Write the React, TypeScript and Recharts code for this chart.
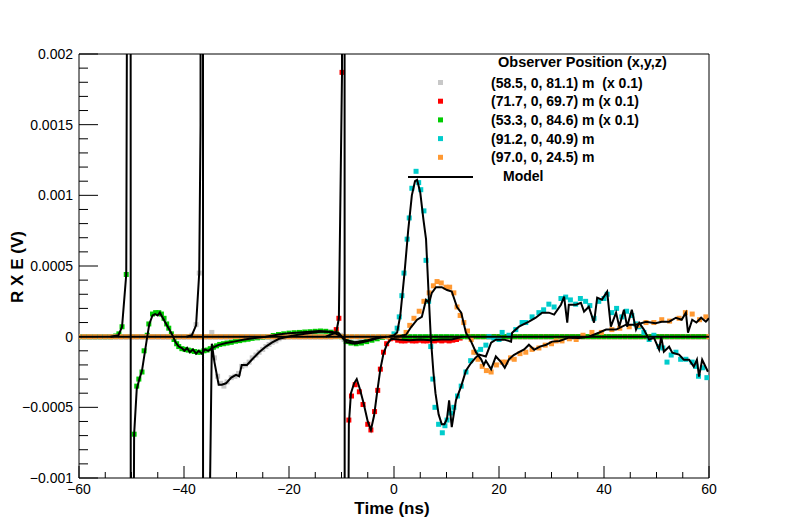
import React from "react";
import {
  ComposedChart,
  Scatter,
  Line,
  XAxis,
  YAxis,
  ReferenceLine,
} from "recharts";

// all values are in units of 1e-4 V, times in ns
const UNIT = 1e-4;
type Pt = [number, number];

// sampling grid used where a trace sits flat on zero
const zeroTimes = Array.from({ length: 121 }, (_, i) => i - 60);

const xTicks = [-60, -55, -50, -45, -40, -35, -30, -25, -20, -15, -10, -5, 0, 5, 10, 15, 20, 25, 30, 35, 40, 45, 50, 55, 60];
const xLabels: Record<number, string> = { [-60]: "\u221260", [-40]: "\u221240", [-20]: "\u221220", 0: "0", 20: "20", 40: "40", 60: "60" };
const yTicks = [-10, -9, -8, -7, -6, -5, -4, -3, -2, -1, 0, 1, 2, 3, 4, 5, 6, 7, 8, 9, 10, 11, 12, 13, 14, 15, 16, 17, 18, 19, 20];
const yLabels: Record<number, string> = { [-10]: "\u22120.001", [-5]: "\u22120.0005", 0: "0", 5: "0.0005", 10: "0.001", 15: "0.0015", 20: "0.002" };

const legendTitle = "Observer Position (x,y,z)";
const legendNames = [
  "(58.5, 0, 81.1) m  (x 0.1)",
  "(71.7, 0, 69.7) m (x 0.1)",
  "(53.3, 0, 84.6) m (x 0.1)",
  "(91.2, 0, 40.9) m",
  "(97.0, 0, 24.5) m",
];
const colors = ["#c8c8c8", "#ff0000", "#00cc00", "#00cccc", "#ff9933"];

// measured points
const grayPts: Pt[] = [
  [-38.5, 0.1], [-37.7, 0.85], [-37.1, 4.5], [-34.7, 0.3], [-34.2, -1.5], [-33.6, -2.8], [-33.0, -3.3],
  [-32.4, -3.5], [-31.8, -3.2], [-31.0, -2.9], [-30.3, -2.8], [-29.6, -2.6], [-29.0, -2.1], [-28.3, -2.0],
  [-27.6, -1.8], [-27.0, -1.5], [-26.3, -1.3], [-25.7, -1.1], [-25.0, -0.9], [-24.4, -0.7], [-23.8, -0.55],
  [-23.2, -0.4], [-22.5, -0.3], [-21.9, -0.15], [-21.0, -0.05], [-20.0, 0.05], [-19.0, 0.1], [-18.0, 0.15],
  [-17.0, 0.2], [-16.0, 0.25], [-15.0, 0.3], [-14.0, 0.35], [-13.0, 0.35], [-12.0, 0.35], [-11.0, 0.3],
  [-10.2, 0.1], [-9.5, -0.2], [-8.5, -0.35], [-7.5, -0.4], [-6.5, -0.35], [-5.5, -0.3], [-4.5, -0.2],
  [-3.5, -0.1], [-2.5, 0],
];
const redPts: Pt[] = [
  [-12, 0], [-11, 0.5], [-10.5, 1.3], [-9.9, 18.7], [-8.6, -5.9], [-8.1, -4.2], [-7.4, -3.4], [-6.6, -3.9],
  [-5.9, -4.8], [-5.0, -6.2], [-4.4, -6.6], [-3.7, -5.3], [-3.1, -3.8], [-2.6, -2.3], [-2.0, -1.1],
  [-1.4, -0.5], [-0.7, -0.15], [0, -0.1], [0.7, -0.25], [1.4, -0.3], [2.1, -0.3], [2.8, -0.25], [3.5, -0.3],
  [4.2, -0.3], [4.9, -0.25], [5.6, -0.3], [6.3, -0.3], [7.0, -0.25], [7.7, -0.3], [8.4, -0.25], [9.1, -0.3],
  [9.8, -0.25], [10.5, -0.3], [11.2, -0.25], [11.9, -0.2], [12.6, -0.1],
];
const greenPts: Pt[] = [
  [-53, 0.05], [-52.4, 0.2], [-51.8, 0.7], [-51.0, 4.4], [-49.5, -6.9], [-49.0, -3.5], [-48.6, -3.0],
  [-48.0, -2.5], [-47.6, -1.0], [-47.0, 0.1], [-46.7, 0.9], [-46.0, 1.6], [-45.4, 1.7], [-44.8, 1.7],
  [-44.3, 1.6], [-43.8, 1.3], [-43.3, 0.9], [-42.9, 0.6], [-42.4, 0.2], [-41.9, -0.2], [-41.4, -0.5],
  [-41.0, -0.7], [-40.4, -0.85], [-39.8, -0.9], [-39.2, -0.95], [-38.6, -1.0], [-38.0, -1.05], [-37.4, -1.1],
  [-36.8, -1.1], [-36.2, -1.0], [-35.6, -0.95], [-35.0, -0.85], [-34.4, -0.75], [-33.8, -0.65], [-33.2, -0.55],
  [-32.5, -0.5], [-31.8, -0.45], [-31.0, -0.4], [-30.2, -0.32], [-29.4, -0.28], [-28.6, -0.22], [-27.8, -0.18],
  [-27.0, -0.12], [-26.0, -0.08], [-25.0, -0.03], [-24.0, 0], [-23.0, 0.08], [-22.0, 0.15], [-21.0, 0.2],
  [-20.0, 0.25], [-19.0, 0.28], [-18.0, 0.3], [-17.0, 0.33], [-16.0, 0.35], [-15.0, 0.38], [-14.0, 0.4],
  [-13.0, 0.38], [-12.0, 0.3], [-11.0, 0.2], [-10.0, 0.0], [-9.1, -0.35], [-8.2, -0.45], [-7.2, -0.5],
  [-6.2, -0.45], [-5.2, -0.35], [-4.2, -0.25], [-3.2, -0.15], [-2.2, -0.05],
];
const cyanPts: Pt[] = [
  [-1, 0], [0, 0.2], [0.6, 0.6], [1.0, 1.4], [1.5, 2.9], [1.9, 4.5], [2.5, 6.9], [2.9, 8.4], [3.4, 10.5],
  [4.2, 11.7], [4.7, 10.9], [5.1, 10.4], [5.7, 8.9], [6.1, 5.4], [6.6, 2.5], [7.0, -0.7], [7.4, -3.0],
  [7.8, -5.0], [8.5, -6.2], [9.2, -6.8], [9.7, -6.3], [10.1, -5.9], [10.8, -5.4], [11.4, -5.0], [12.1, -4.2],
  [12.8, -3.5], [13.7, -2.5], [14.6, -1.7], [15.6, -1.1], [16.5, -0.9], [17.5, -0.6], [18.1, 0], [19.0, -0.1],
  [20.0, -0.2], [20.6, 0.3], [21.9, 0.1], [23.2, 0.5], [24.4, 1.0], [25.1, 1.0], [26.3, 1.4], [27.6, 1.7],
  [28.5, 1.9], [29.5, 2.3], [30.5, 2.1], [31.8, 2.7], [32.7, 2.8], [33.6, 2.6], [34.6, 2.3], [35.5, 2.7],
  [36.5, 2.5], [37.3, 2.2], [38.1, 1.3], [39.0, 2.5], [40.0, 2.7], [40.6, 3.0], [41.5, 1.7], [42.4, 2.0],
  [43.4, 1.4], [44.3, 1.8], [45.3, 1.5], [46.0, 0.9], [46.7, 0.7], [47.6, 0.3], [48.6, -0.2], [49.5, 0.1],
  [50.5, -0.7], [51.2, -0.8], [52.0, -1.8], [52.8, -1.3], [53.7, -1.1], [54.6, -1.6], [55.6, -1.6],
  [56.8, -1.8], [57.5, -2.1], [58.0, -2.8], [58.8, -2.2], [59.6, -2.9],
];
const orangePts: Pt[] = [
  [1, 0], [2.3, 0.3], [3, 0.8], [3.8, 1.3], [4.8, 1.8], [5.7, 2.5], [6.7, 3.1], [7.5, 3.6], [8.2, 3.9],
  [9.0, 3.8], [9.9, 3.5], [10.6, 3.5], [11.4, 3.1], [12, 2.1], [12.6, 1.5], [13.3, 1.0], [14.0, 0.4],
  [14.7, -0.2], [15.2, -1.1], [16.0, -1.6], [16.8, -2.1], [17.6, -2.4], [18.5, -2.5], [19.5, -2.0],
  [20.6, -1.8], [21.3, -1.8], [22.2, -1.5], [22.9, -1.6], [24, -1.2], [25.1, -1.1], [26.3, -0.9],
  [27.6, -0.8], [28.8, -0.6], [30, -0.5], [30.9, -0.3], [32, -0.3], [33.4, -0.15], [34.7, -0.2], [36, 0.1],
  [37.7, 0.3], [39.5, 0.3], [41.5, 0.5], [43, 0.6], [44.8, 0.7], [46.5, 0.8], [48, 1.0], [49.5, 1.0],
  [51, 1.2], [52.5, 1.1], [54.3, 1.3], [55.5, 1.7], [56.8, 1.6], [58.2, 1.2], [59.4, 1.4],
];

// model curves (the spikes run far off the frame and get clipped)
const modelFlat: Pt[] = [[-60, 0], [60, 0]];
const grayModel: Pt[] = [
  [-39.5, 0], [-38.5, 0.1], [-37.7, 0.8], [-37.1, 4.5], [-36.85, 15], [-36.55, 400], [-36.2, -400],
  [-35.7, -30], [-34.7, -0.5], [-34.2, -1.8], [-33.4, -3.4], [-32.8, -3.4], [-32.0, -3.3], [-31.0, -2.9],
  [-30.1, -2.7], [-29.5, -2.8], [-29.0, -2.0], [-28.0, -2.0], [-27.0, -1.6], [-25.7, -1.1], [-24.4, -0.7],
  [-23.2, -0.4], [-21.9, -0.15], [-19.4, 0.07], [-17, 0.2], [-14, 0.35], [-12, 0.35], [-10.5, 0.25],
  [-9.5, -0.2], [-7.5, -0.4], [-5, -0.25], [-2.5, 0],
];
const redModel: Pt[] = [
  [-13, 0], [-11, 0.3], [-10.5, 1.3], [-9.9, 18.7], [-9.6, 400], [-9.2, -400], [-8.9, -30], [-8.6, -6.2],
  [-8.2, -4.0], [-7.6, -3.3], [-7.1, -3.0], [-6.5, -3.7], [-5.8, -4.7], [-5.0, -6.0], [-4.4, -6.6],
  [-3.8, -5.6], [-3.2, -3.9], [-2.6, -2.3], [-2.0, -1.2], [-1.3, -0.5], [-0.5, -0.15], [1, -0.2],
  [3, -0.25], [5, -0.2], [7, -0.25], [9, -0.2], [11, -0.2], [13, 0],
];
const greenModel: Pt[] = [
  [-54, 0], [-52.5, 0.1], [-51.8, 0.7], [-51.0, 4.4], [-50.85, 25], [-50.35, 400], [-49.95, -400],
  [-49.75, -30], [-49.5, -6.9], [-49.0, -3.7], [-48.5, -3.0], [-48.0, -2.4], [-47.5, -1.2], [-47.0, 0],
  [-46.6, 0.9], [-46.0, 1.5], [-45.5, 1.6], [-45.0, 1.5], [-44.6, 1.7], [-44.0, 1.3], [-43.4, 0.9],
  [-42.8, 0.5], [-42.2, 0.1], [-41.6, -0.4], [-41.0, -0.7], [-40.4, -0.8], [-39.9, -1.0], [-39.4, -0.8],
  [-38.9, -1.1], [-38.3, -0.9], [-37.7, -1.2], [-37.2, -1.0], [-36.6, -1.2], [-36.0, -0.9], [-35.4, -1.0],
  [-34.6, -0.8], [-33.5, -0.6], [-32.0, -0.45], [-30.5, -0.35], [-28.5, -0.2], [-26.5, -0.1], [-24.4, 0],
  [-22, 0.15], [-20, 0.25], [-18, 0.3], [-16, 0.35], [-14.3, 0.4], [-12.5, 0.35], [-11, 0.2], [-10, 0],
  [-9, -0.4], [-7.5, -0.5], [-6, -0.4], [-4.5, -0.25], [-3, -0.1], [-1.5, 0],
];
const cyanModel: Pt[] = [
  [-1, 0], [0, 0.1], [0.6, 0.3], [1.2, 1.5], [2.0, 4.5], [2.7, 7.5], [3.4, 10.0], [4.0, 11.0], [4.4, 11.1],
  [5.0, 10.2], [5.6, 8.3], [6.1, 6.9], [6.6, 3.0], [7.0, 0], [7.5, -2.5], [7.9, -4.0], [8.5, -5.5],
  [9.1, -6.2], [9.6, -6.2], [10.1, -5.8], [10.5, -4.5], [11.0, -6.4], [11.8, -4.5], [12.8, -3.5],
  [13.7, -2.4], [14.6, -1.9], [15.5, -1.5], [16.2, -1.27], [17.5, -1.4], [18.5, -0.42], [19.4, -0.21],
  [21.0, -0.21], [22.3, -0.35], [22.5, 0.28], [23.8, 0.71], [25.7, 1.06], [27.0, 1.34], [28.2, 1.7],
  [29.5, 1.7], [30.5, 1.56], [31.8, 2.26], [32.4, 2.83], [33.0, 0.99], [33.3, 2.26], [34.7, 2.26],
  [35.6, 2.4], [36.2, 1.77], [37.1, 2.12], [38.1, 0.99], [38.7, 2.76], [39.6, 2.62], [40.6, 3.18],
  [41.3, 0.71], [42.3, 1.7], [42.9, 0.71], [43.8, 1.91], [44.4, 0.71], [45.3, 1.91], [46.1, 0.5],
  [46.7, 0.99], [47.6, 0.5], [48.6, -0.21], [49.5, -0.07], [50.5, -0.92], [50.9, 0], [51.4, -1.06],
  [52.4, -0.71], [53.0, -1.13], [54.3, -1.27], [55.2, -1.63], [56.2, -1.63], [57.1, -2.12], [57.7, -1.63],
  [58.1, -2.83], [58.7, -1.63], [59.8, -2.48],
];
const orangeModel: Pt[] = [
  [0, 0], [1.2, 0.05], [2.3, 0.14], [3.3, 0.7], [4.4, 1.2], [5.3, 1.4], [6.1, 2.6], [6.7, 2.4], [7.2, 3.1],
  [8.0, 3.5], [9.1, 3.5], [10.1, 3.3], [11.0, 3.2], [12.0, 2.1], [12.8, 1.7], [13.7, 0.28], [14.7, -0.35],
  [15.6, -1.1], [16.6, -1.6], [17.1, -2.0], [17.5, -1.7], [18.5, -2.3], [19.4, -1.4], [20.4, -1.8],
  [21.1, -2.2], [21.9, -1.6], [22.8, -1.3], [23.8, -1.1], [24.8, -0.9], [25.7, -0.57], [26.7, -0.92],
  [27.8, -0.7], [29.0, -0.57], [30.1, -0.35], [31.5, -0.3], [33.3, -0.07], [35.2, -0.1], [37.1, 0],
  [39.0, 0.28], [40.4, 0.5], [42.3, 0.5], [44.2, 0.85], [46.1, 0.85], [48.0, 1.06], [49.8, 0.95],
  [51.0, 1.06], [52.4, 1.06], [53.7, 1.34], [54.8, 1.2], [55.6, 1.7], [56.0, 0.28], [56.8, 1.2],
  [57.6, 1.0], [58.5, 1.34], [59.4, 1.06], [60, 1.3],
];

const PLOT_LEFT = 79;
const PLOT_BOTTOM = 478;
const FONT = "'Liberation Sans', Arial, Helvetica, sans-serif";

const toRows = (pts: Pt[]) => pts.map(([t, v]) => ({ t, v: v * UNIT }));

function withZeros(pts: Pt[]) {
  const first = pts[0][0];
  const last = pts[pts.length - 1][0];
  const zeros: Pt[] = zeroTimes
    .filter((t) => t < first - 0.5 || t > last + 0.5)
    .map((t) => [t, 0] as Pt);
  return toRows([...zeros, ...pts].sort((a, b) => a[0] - b[0]));
}

const series = [grayPts, redPts, greenPts, cyanPts, orangePts].map(withZeros);
const models = [modelFlat, grayModel, redModel, greenModel, cyanModel, orangeModel].map(toRows);

function XTick(props: any) {
  const { x, payload } = props;
  const v = payload.value;
  const major = v % 20 === 0;
  return (
    <g>
      <line x1={x} x2={x} y1={PLOT_BOTTOM} y2={PLOT_BOTTOM - (major ? 12 : 6)} stroke="#000" />
      {major && (
        <text x={x} y={494} textAnchor="middle" fontSize={14} fontFamily={FONT} fill="#000">
          {xLabels[v]}
        </text>
      )}
    </g>
  );
}

function YTick(props: any) {
  const { y, payload } = props;
  const k = Math.round(payload.value / UNIT);
  const major = k % 5 === 0;
  return (
    <g>
      <line x1={PLOT_LEFT} x2={PLOT_LEFT + (major ? 19 : 9)} y1={y} y2={y} stroke="#000" />
      {major && (
        <text x={73} y={y + 5} textAnchor="end" fontSize={14} fontFamily={FONT} fill="#000">
          {yLabels[k]}
        </text>
      )}
    </g>
  );
}

const square = (color: string) => (p: any) =>
  <rect x={p.cx - 2.5} y={p.cy - 2.5} width={5} height={5} fill={color} />;

export default function App() {
  return (
    <div style={{ position: "absolute", left: 0, top: 0, width: 788, height: 532, background: "#fff" }}>
      <ComposedChart width={788} height={532} margin={{ top: 54, right: 79, bottom: 0, left: 0 }}>
        <XAxis
          type="number"
          dataKey="t"
          domain={[-60, 60]}
          ticks={xTicks}
          interval={0}
          allowDataOverflow
          height={54}
          tickLine={false}
          axisLine={{ stroke: "#000" }}
          tick={<XTick />}
        />
        <YAxis
          type="number"
          dataKey="v"
          domain={[-0.001, 0.002]}
          ticks={yTicks.map((k) => k * UNIT)}
          interval={0}
          allowDataOverflow
          width={79}
          tickLine={false}
          axisLine={{ stroke: "#000" }}
          tick={<YTick />}
        />
        <ReferenceLine y={0.002} stroke="#000" />
        <ReferenceLine x={60} stroke="#000" />
        {series.map((d, i) => (
          <Scatter
            key={`s${i}`}
            data={d}
            fill={colors[i]}
            shape={square(colors[i])}
            isAnimationActive={false}
          />
        ))}
        {models.map((d, i) => (
          <Line
            key={`m${i}`}
            data={d}
            dataKey="v"
            type="linear"
            stroke="#000"
            strokeWidth={2}
            dot={false}
            activeDot={false}
            zIndex={700}
            isAnimationActive={false}
          />
        ))}
      </ComposedChart>
      <svg
        width={788}
        height={532}
        style={{ position: "absolute", left: 0, top: 0, pointerEvents: "none" }}
        fontFamily={FONT}
      >
        <text x={392} y={514} textAnchor="middle" fontSize={17} fontWeight="bold">
          Time (ns)
        </text>
        <text
          transform="translate(23, 267) rotate(-90)"
          textAnchor="middle"
          fontSize={17}
          fontWeight="bold"
        >
          R X E (V)
        </text>
        <text x={498} y={67} fontSize={14.5} fontWeight="bold">
          {legendTitle}
        </text>
        {legendNames.map((name, i) => {
          const cy = 82.5 + i * 18.7;
          return (
            <g key={name}>
              <rect x={438} y={cy - 2.5} width={5} height={5} fill={colors[i]} />
              <text x={491} y={cy + 5} fontSize={14} fontWeight="bold" style={{ whiteSpace: "pre" }}>
                {name}
              </text>
            </g>
          );
        })}
        <line x1={408} x2={473} y1={177} y2={177} stroke="#000" strokeWidth={2} />
        <text x={503} y={181} fontSize={14} fontWeight="bold">
          Model
        </text>
      </svg>
    </div>
  );
}
